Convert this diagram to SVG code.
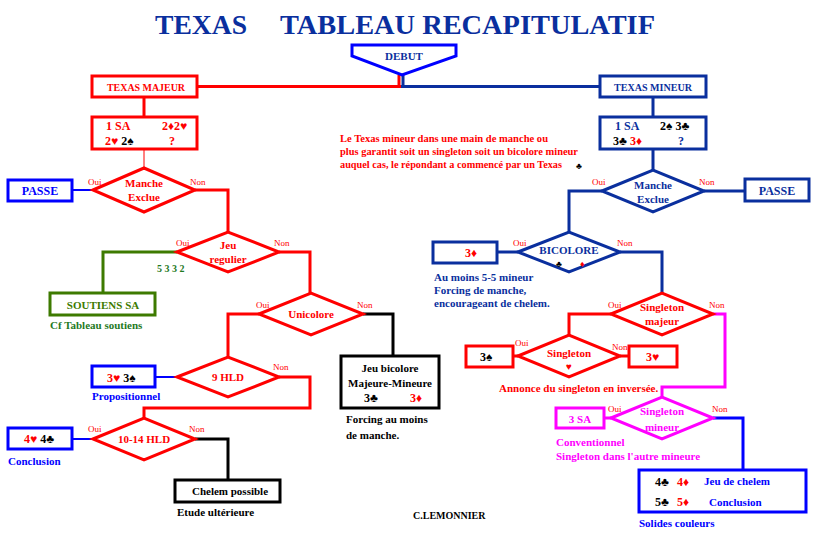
<svg xmlns="http://www.w3.org/2000/svg" width="820" height="535" viewBox="0 0 820 535">
<style>
text{font-family:"Liberation Serif","Times New Roman",serif;font-weight:bold}
.r{fill:#ff0000}.b{fill:#0000ff}.db{fill:#0a2f9e}.k{fill:#000}.g{fill:#1f7a1f}.m{fill:#ff00ff}.ol{fill:#3d7a00}
.c{text-anchor:middle}
.sr{fill:#fff;stroke:#ff0000;stroke-width:3}
.sb{fill:#fff;stroke:#0000ff;stroke-width:3}
.sdb{fill:#fff;stroke:#0a2f9e;stroke-width:3}
.sk{fill:#fff;stroke:#000;stroke-width:3}
.sg{fill:#fff;stroke:#3d7a00;stroke-width:3}
.sm{fill:#fff;stroke:#ff00ff;stroke-width:3}
.lr{fill:none;stroke:#ff0000;stroke-width:3}
.lb{fill:none;stroke:#0000ff;stroke-width:3}
.ldb{fill:none;stroke:#0a2f9e;stroke-width:3}
.lk{fill:none;stroke:#000;stroke-width:3}
.lg{fill:none;stroke:#3d7a00;stroke-width:3}
.lm{fill:none;stroke:#ff00ff;stroke-width:3}
.on{font-size:9px;font-weight:normal;fill:#ff0000}
.n{font-size:11px}
.s{font-size:12px}
.nt{font-size:10px}
</style>

<text x="155" y="34" font-size="28" fill="#0a2f9e" textLength="92" lengthAdjust="spacingAndGlyphs">TEXAS</text>
<text x="280" y="34" font-size="28" fill="#0a2f9e" textLength="375" lengthAdjust="spacingAndGlyphs">TABLEAU RECAPITULATIF</text>

<g id="connectors">
<path class="lr" d="M399,75V87"/>
<path class="ldb" d="M403,75V87"/>
<path class="lr" d="M197,86.5H401"/>
<path class="ldb" d="M401,86.5H600"/>
<path class="lr" d="M144,97V117"/>
<path d="M144,149V168" stroke="#ff0000" stroke-width="1"/>
<path d="M72,190H93" stroke="#0000ff" stroke-width="2"/>
<path class="lr" d="M195,190H228V232"/>
<path class="lg" d="M177,252H103V293"/>
<path class="lr" d="M279,252H310V293"/>
<path class="lr" d="M259,314H228V357"/>
<path class="lk" d="M363,314H393V356"/>
<path d="M155,377H177" stroke="#0000ff" stroke-width="2"/>
<path class="lr" d="M279,377H310V408H144V418"/>
<path d="M72,439H93" stroke="#0000ff" stroke-width="2"/>
<path class="lk" d="M195,439H228V480"/>
<path class="ldb" d="M653,97V117M653,149V170"/>
<path class="ldb" d="M704,191H745"/>
<path class="ldb" d="M602,191H569V232"/>
<path class="ldb" d="M497,252H518"/>
<path class="ldb" d="M620,252H662V293"/>
<path class="lr" d="M611,314H569V335"/>
<path class="lr" d="M513,356H518M620,356H629"/>
<path class="lm" d="M713,314H725V387H662V397"/>
<path class="lm" d="M604,418H611"/>
<path class="lb" d="M713,418H743V470"/>
</g>

<g id="debut">
<path d="M352,45H456V56L402,75L352,56Z" fill="#fff" stroke="#0000ff" stroke-width="3"/>
<text x="404" y="60" class="db c n">DEBUT</text>
</g>

<g id="texas-majeur">
<rect x="92" y="76" width="105" height="21" class="sr"/>
<text x="146" y="91" class="r c n" textLength="78" lengthAdjust="spacingAndGlyphs">TEXAS MAJEUR</text>
</g>

<g id="majeur-encheres">
<rect x="92" y="117" width="105" height="32" class="sr"/>
<text x="106" y="130" class="r s">1 SA</text>
<text x="162" y="130" class="r s">2♦2♥</text>
<text x="105" y="145" class="r s">2♥ <tspan class="k">2♠</tspan></text>
<text x="169" y="145" class="r s">?</text>
</g>

<g id="passe-gauche">
<rect x="8" y="180" width="64" height="21" class="sb"/>
<text x="40" y="195" class="b c s">PASSE</text>
</g>

<g id="manche-exclue-gauche">
<polygon points="93,190 144,168 195,190 144,212" class="sr"/>
<text x="144" y="187" class="r c n">Manche</text>
<text x="144" y="201" class="r c n">Exclue</text>
<text x="88" y="185" class="on">Oui</text>
<text x="190" y="185" class="on">Non</text>
</g>

<g id="jeu-regulier">
<polygon points="177,252 228,232 279,252 228,272" class="sr"/>
<text x="228" y="249" class="r c n">Jeu</text>
<text x="228" y="263" class="r c n">regulier</text>
<text x="176" y="246" class="on">Oui</text>
<text x="274" y="246" class="on">Non</text>
<text x="157" y="272" class="g" font-size="10">5 3 3 2</text>
</g>

<g id="soutiens-sa">
<rect x="50" y="293" width="105" height="22" class="sg"/>
<text x="103" y="309" class="ol c n">SOUTIENS SA</text>
<text x="50" y="329" class="g n">Cf Tableau soutiens</text>
</g>

<g id="unicolore">
<polygon points="259,314 311,293 363,314 311,335" class="sr"/>
<text x="311" y="318" class="r c n">Unicolore</text>
<text x="256" y="308" class="on">Oui</text>
<text x="357" y="308" class="on">Non</text>
</g>

<g id="bicolore-majeure-mineure">
<rect x="341" y="356" width="98" height="52" class="sk"/>
<text x="390" y="372" class="k c n">Jeu bicolore</text>
<text x="390" y="387" class="k c n">Majeure-Mineure</text>
<text x="364" y="402" class="k s">3♣</text>
<text x="410" y="402" class="r s">3♦</text>
<text x="346" y="423" class="k n">Forcing au moins</text>
<text x="346" y="439" class="k n">de manche.</text>
</g>

<g id="neuf-hld">
<polygon points="177,377 228,357 279,377 228,397" class="sr"/>
<text x="228" y="381" class="r c n">9 HLD</text>
<text x="273" y="370" class="on">Non</text>
</g>

<g id="propositionnel">
<rect x="92" y="366" width="63" height="21" class="sb"/>
<text x="107" y="382" class="r s">3♥ <tspan class="k">3♠</tspan></text>
<text x="92" y="400" class="b n">Propositionnel</text>
</g>

<g id="dix-quatorze-hld">
<polygon points="93,439 144,418 195,439 144,460" class="sr"/>
<text x="144" y="443" class="r c n">10-14 HLD</text>
<text x="88" y="432" class="on">Oui</text>
<text x="189" y="432" class="on">Non</text>
</g>

<g id="conclusion-gauche">
<rect x="8" y="428" width="64" height="21" class="sb"/>
<text x="24" y="443" class="r s">4♥ <tspan class="k">4♣</tspan></text>
<text x="8" y="465" class="b n">Conclusion</text>
</g>

<g id="chelem-possible">
<rect x="175" y="480" width="105" height="22" class="sk"/>
<text x="230" y="495" class="k c n">Chelem possible</text>
<text x="177" y="516" class="k n">Etude ultérieure</text>
</g>

<text x="413" y="519" class="k" font-size="10">C.LEMONNIER</text>

<g id="note">
<text x="340" y="142" class="r nt" textLength="208" lengthAdjust="spacingAndGlyphs">Le Texas mineur dans une main de manche ou</text>
<text x="340" y="155" class="r nt" textLength="238" lengthAdjust="spacingAndGlyphs">plus garantit soit un singleton soit un bicolore mineur</text>
<text x="340" y="168" class="r nt" textLength="222" lengthAdjust="spacingAndGlyphs">auquel cas, le répondant a commencé par un Texas</text>
<text x="576" y="169" class="k" font-size="9">♣</text>
</g>

<g id="texas-mineur">
<rect x="600" y="76" width="106" height="21" class="sdb"/>
<text x="653" y="91" class="db c n" textLength="78" lengthAdjust="spacingAndGlyphs">TEXAS MINEUR</text>
</g>

<g id="mineur-encheres">
<rect x="600" y="117" width="106" height="32" class="sdb"/>
<text x="615" y="130" class="db s">1 SA</text>
<text x="660" y="130" class="k s">2♠ 3♣</text>
<text x="613" y="145" class="k s">3♣ <tspan class="r">3♦</tspan></text>
<text x="678" y="145" class="db s">?</text>
</g>

<g id="manche-exclue-droite">
<polygon points="602,191 653,170 704,191 653,212" class="sdb"/>
<text x="653" y="189" class="db c n">Manche</text>
<text x="653" y="203" class="db c n">Exclue</text>
<text x="592" y="185" class="on">Oui</text>
<text x="699" y="185" class="on">Non</text>
</g>

<g id="passe-droite">
<rect x="745" y="179" width="64" height="22" class="sdb"/>
<text x="777" y="195" class="db c s">PASSE</text>
</g>

<g id="bicolore">
<polygon points="518,252 569,232 620,252 569,272" class="sdb"/>
<text x="569" y="254" class="db c n">BICOLORE</text>
<text x="556" y="267" class="k" font-size="9">♣</text>
<text x="580" y="267" class="r" font-size="9">♦</text>
<text x="513" y="246" class="on">Oui</text>
<text x="617" y="246" class="on">Non</text>
</g>

<g id="bicolore-mineur">
<rect x="433" y="242" width="64" height="21" class="sdb"/>
<text x="465" y="257" class="r s">3♦</text>
<text x="434" y="281" class="db n">Au moins 5-5 mineur</text>
<text x="434" y="294" class="db n">Forcing de manche,</text>
<text x="434" y="307" class="db n">encourageant de chelem.</text>
</g>

<g id="singleton-majeur">
<polygon points="611,314 662,293 713,314 662,335" class="sr"/>
<text x="662" y="311" class="r c n">Singleton</text>
<text x="662" y="325" class="r c n">majeur</text>
<text x="608" y="308" class="on">Oui</text>
<text x="709" y="308" class="on">Non</text>
</g>

<g id="singleton-coeur">
<polygon points="518,356 569,335 620,356 569,377" class="sr"/>
<text x="569" y="357" class="r c n">Singleton</text>
<text x="569" y="370" class="r c" font-size="10">♥</text>
<text x="515" y="346" class="on">Oui</text>
<text x="612" y="350" class="on">Non</text>
<text x="499" y="392" class="r n">Annonce du singleton en inversée.</text>
</g>

<g id="trois-pique">
<rect x="466" y="346" width="47" height="21" class="sr"/>
<text x="480" y="361" class="k s">3♠</text>
</g>

<g id="trois-coeur">
<rect x="629" y="346" width="48" height="21" class="sr"/>
<text x="646" y="361" class="r s">3♥</text>
</g>

<g id="singleton-mineur">
<polygon points="611,418 662,397 713,418 662,439" class="sm"/>
<text x="662" y="415" class="m c n">Singleton</text>
<text x="662" y="431" class="m c n">mineur</text>
<text x="608" y="412" class="on">Oui</text>
<text x="712" y="412" class="on">Non</text>
</g>

<g id="trois-sa">
<rect x="556" y="408" width="48" height="20" class="sm"/>
<text x="580" y="423" class="m c n">3 SA</text>
<text x="556" y="446" class="m n">Conventionnel</text>
<text x="556" y="460" class="m n">Singleton dans l'autre mineure</text>
</g>

<g id="solides-couleurs">
<rect x="639" y="470" width="167" height="42" class="sb"/>
<text x="655" y="486" class="k s">4♣</text>
<text x="677" y="486" class="r s">4♦</text>
<text x="704" y="485" class="b n">Jeu de chelem</text>
<text x="655" y="506" class="k s">5♣</text>
<text x="677" y="506" class="r s">5♦</text>
<text x="709" y="506" class="b n">Conclusion</text>
<text x="639" y="527" class="b n">Solides couleurs</text>
</g>
</svg>
